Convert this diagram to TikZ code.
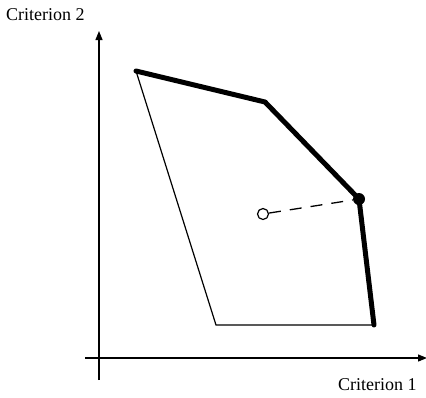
\documentclass[tikz,border=0pt]{standalone}
\usepackage{fontspec}
\setmainfont{Liberation Serif}
\usetikzlibrary{arrows.meta}
\begin{document}
\begin{tikzpicture}[x=1pt,y=-1pt,
  axis/.style={line width=1.2pt,-{Triangle[length=9pt,width=7pt]}},
  thickedge/.style={line width=5pt,line join=round,line cap=round},
  thinedge/.style={line width=1.2pt},
  lbl/.style={font=\fontsize{18}{20}\selectfont,inner sep=0pt}]
\useasboundingbox (0,0) rectangle (426,397);
\coordinate (xs) at (85,358);
\coordinate (xe) at (427,358);
\coordinate (ys) at (99,380);
\coordinate (ye) at (99,31);
\draw[axis] (xs) -- (xe);
\draw[axis] (ys) -- (ye);
\coordinate (A) at (136,71);
\coordinate (B) at (265,102);
\coordinate (C) at (359,199);
\coordinate (D) at (374,325);
\coordinate (E) at (216,325);
\draw[thinedge] (D) -- (E) -- (A);
\draw[thickedge] (A) -- (B) -- (C) -- (D);
\node[circle,fill=black,minimum size=12pt,inner sep=0pt] (dot) at (C) {};
\node[circle,draw,line width=1.2pt,fill=white,minimum size=11pt,inner sep=0pt] (o) at (263,214) {};
\draw[line width=1.3pt,dash pattern=on 12pt off 9pt] (o) -- (dot);
\node[lbl,anchor=west] (l2) at (6,15) {Criterion 2};
\node[lbl,anchor=west] (l1) at (338,385) {Criterion 1};
\end{tikzpicture}
\end{document}
